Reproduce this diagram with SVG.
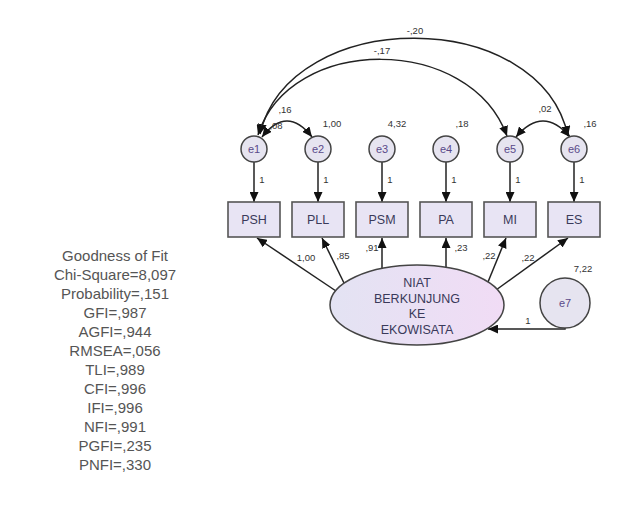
<svg xmlns="http://www.w3.org/2000/svg" width="627" height="524" viewBox="0 0 627 524">
<defs>
<marker id="ah" markerUnits="userSpaceOnUse" markerWidth="11" markerHeight="9" refX="10" refY="4.5" orient="auto-start-reverse"><path d="M0,0 L10,4.5 L0,9 z" fill="#111"/></marker>
<linearGradient id="eg" x1="0" y1="0" x2="1" y2="0"><stop offset="0" stop-color="#e3e3f3"/><stop offset="1" stop-color="#f1dcf5"/></linearGradient>
<style>
.box{fill:#e8e4f4;stroke:#555;stroke-width:1.6}
.cir{fill:#e6e4f0;stroke:#444;stroke-width:1.5}
.ln{fill:none;stroke:#222;stroke-width:1.5}
.bl{font-family:"Liberation Sans",Arial,sans-serif;font-size:12.5px;fill:#3a3a5a;text-anchor:middle;dominant-baseline:central}
.cl{font-family:"Liberation Sans",Arial,sans-serif;font-size:11px;fill:#5a4a8a;text-anchor:middle;dominant-baseline:central}
.sl{font-family:"Liberation Sans",Arial,sans-serif;font-size:9.5px;fill:#333;text-anchor:middle;dominant-baseline:central}
.gf{font-family:"Liberation Sans",Arial,sans-serif;font-size:15px;fill:#555;text-anchor:middle;dominant-baseline:central}
</style>
</defs>
<rect width="627" height="524" fill="#fff"/>
<g id="connectors">
<path class="ln" d="M260,134 C290,6 540,6 568,136" marker-start="url(#ah)" marker-end="url(#ah)"/>
<path class="ln" d="M258,135 C290,34 470,34 507,136" marker-start="url(#ah)" marker-end="url(#ah)"/>
<path class="ln" d="M262,137 Q287,105 312,137" marker-start="url(#ah)" marker-end="url(#ah)"/>
<path class="ln" d="M516,137 Q543,105 570,137" marker-start="url(#ah)" marker-end="url(#ah)"/>
<line class="ln" x1="254" y1="162" x2="254" y2="202" marker-end="url(#ah)"/>
<line class="ln" x1="318" y1="162" x2="318" y2="202" marker-end="url(#ah)"/>
<line class="ln" x1="382" y1="162" x2="382" y2="202" marker-end="url(#ah)"/>
<line class="ln" x1="446" y1="162" x2="446" y2="202" marker-end="url(#ah)"/>
<line class="ln" x1="510" y1="162" x2="510" y2="202" marker-end="url(#ah)"/>
<line class="ln" x1="574" y1="162" x2="574" y2="202" marker-end="url(#ah)"/>
<line class="ln" x1="336" y1="291" x2="257" y2="238" marker-end="url(#ah)"/>
<line class="ln" x1="344" y1="283" x2="322" y2="238" marker-end="url(#ah)"/>
<line class="ln" x1="382" y1="268" x2="382" y2="238" marker-end="url(#ah)"/>
<line class="ln" x1="446" y1="267" x2="446" y2="238" marker-end="url(#ah)"/>
<line class="ln" x1="488" y1="282" x2="506" y2="238" marker-end="url(#ah)"/>
<line class="ln" x1="496" y1="290" x2="568" y2="238" marker-end="url(#ah)"/>
<path class="ln" d="M565,328 L565,329 L488,329" marker-end="url(#ah)"/>
<text class="sl" x="415" y="30">-,20</text>
<text class="sl" x="382" y="50">-,17</text>
<text class="sl" x="285" y="109">,16</text>
<text class="sl" x="545" y="108">,02</text>
<text class="sl" x="262" y="179">1</text>
<text class="sl" x="326" y="179">1</text>
<text class="sl" x="390" y="179">1</text>
<text class="sl" x="454" y="179">1</text>
<text class="sl" x="518" y="179">1</text>
<text class="sl" x="582" y="179">1</text>
<text class="sl" x="306" y="257">1,00</text>
<text class="sl" x="343" y="255">,85</text>
<text class="sl" x="372" y="247">,91</text>
<text class="sl" x="461" y="247">,23</text>
<text class="sl" x="489" y="255">,22</text>
<text class="sl" x="528" y="257">,22</text>
<text class="sl" x="528" y="320">1</text>
</g>
<g id="e1"><circle class="cir" cx="254" cy="149" r="13"/><text class="cl" x="254" y="149">e1</text><text class="sl" x="276" y="125">,08</text></g>
<g id="e2"><circle class="cir" cx="318" cy="149" r="13"/><text class="cl" x="318" y="149">e2</text><text class="sl" x="332" y="123">1,00</text></g>
<g id="e3"><circle class="cir" cx="382" cy="149" r="13"/><text class="cl" x="382" y="149">e3</text><text class="sl" x="397" y="123">4,32</text></g>
<g id="e4"><circle class="cir" cx="446" cy="149" r="13"/><text class="cl" x="446" y="149">e4</text><text class="sl" x="462" y="123">,18</text></g>
<g id="e5"><circle class="cir" cx="510" cy="149" r="13"/><text class="cl" x="510" y="149">e5</text></g>
<g id="e6"><circle class="cir" cx="574" cy="149" r="13"/><text class="cl" x="574" y="149">e6</text><text class="sl" x="590" y="123">,16</text></g>
<g id="PSH"><rect class="box" x="228" y="202" width="52" height="35"/><text class="bl" x="254" y="220">PSH</text></g>
<g id="PLL"><rect class="box" x="292" y="202" width="52" height="35"/><text class="bl" x="318" y="220">PLL</text></g>
<g id="PSM"><rect class="box" x="356" y="202" width="52" height="35"/><text class="bl" x="382" y="220">PSM</text></g>
<g id="PA"><rect class="box" x="420" y="202" width="52" height="35"/><text class="bl" x="446" y="220">PA</text></g>
<g id="MI"><rect class="box" x="484" y="202" width="52" height="35"/><text class="bl" x="510" y="220">MI</text></g>
<g id="ES"><rect class="box" x="548" y="202" width="52" height="35"/><text class="bl" x="574" y="220">ES</text></g>
<g id="niat"><ellipse cx="417" cy="305" rx="87" ry="40" fill="url(#eg)" stroke="#444" stroke-width="1.5"/>
<text class="bl" x="417" y="283">NIAT</text><text class="bl" x="417" y="299">BERKUNJUNG</text><text class="bl" x="417" y="314">KE</text><text class="bl" x="417" y="330">EKOWISATA</text></g>
<g id="e7"><circle class="cir" cx="565" cy="303" r="25"/><text class="cl" x="565" y="303">e7</text><text class="sl" x="583" y="268">7,22</text></g>
<g id="fit">
<text class="gf" x="115" y="255">Goodness of Fit</text>
<text class="gf" x="115" y="274">Chi-Square=8,097</text>
<text class="gf" x="115" y="293">Probability=,151</text>
<text class="gf" x="115" y="312">GFI=,987</text>
<text class="gf" x="115" y="331">AGFI=,944</text>
<text class="gf" x="115" y="350">RMSEA=,056</text>
<text class="gf" x="115" y="369">TLI=,989</text>
<text class="gf" x="115" y="388">CFI=,996</text>
<text class="gf" x="115" y="407">IFI=,996</text>
<text class="gf" x="115" y="426">NFI=,991</text>
<text class="gf" x="115" y="445">PGFI=,235</text>
<text class="gf" x="115" y="464">PNFI=,330</text>
</g>
</svg>
